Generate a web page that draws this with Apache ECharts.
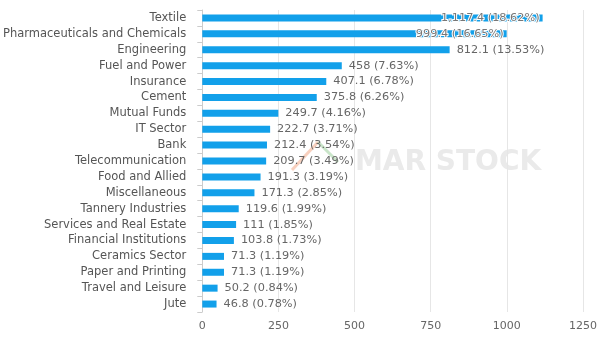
<!DOCTYPE html>
<html><head><meta charset="utf-8">
<script src="https://cdn.jsdelivr.net/npm/echarts@6/dist/echarts.min.js"></script>
<style>html,body{margin:0;padding:0;background:#fff}#c{width:600px;height:337px}</style>
</head><body><div id="c"></div>
<script>
const categories = ["Textile","Pharmaceuticals and Chemicals","Engineering","Fuel and Power","Insurance","Cement","Mutual Funds","IT Sector","Bank","Telecommunication","Food and Allied","Miscellaneous","Tannery Industries","Services and Real Estate","Financial Institutions","Ceramics Sector","Paper and Printing","Travel and Leisure","Jute"];
const values = [1117.4,999.4,812.1,458,407.1,375.8,249.7,222.7,212.4,209.7,191.3,171.3,119.6,111,103.8,71.3,71.3,50.2,46.8];
const percents = [18.62,16.65,13.53,7.63,6.78,6.26,4.16,3.71,3.54,3.49,3.19,2.85,1.99,1.85,1.73,1.19,1.19,0.84,0.78];
const xTicks = [0,250,500,750,1000,1250];

const fmt = v => v.toLocaleString('en-US', {maximumFractionDigits: 1});
const chart = echarts.init(document.getElementById('c'));
const data = values.map((v, i) => {
  const item = {value: v};
  if (i < 2) {
    item.label = {position: 'insideRight', offset: [4, 0], color: '#777', textBorderColor: '#fff', textBorderWidth: 2};
  }
  return item;
});
chart.setOption({
  animation: false,
  textStyle: {fontFamily: 'DejaVu Sans'},
  graphic: [
    {type: 'polyline', z: 0, shape: {points: [[292,170],[318,142]]}, style: {stroke: 'rgba(240,150,110,0.45)', lineWidth: 3}},
    {type: 'polyline', z: 0, shape: {points: [[318,142],[338,162]]}, style: {stroke: 'rgba(120,190,120,0.4)', lineWidth: 3}},
    {type: 'text', left: 355, top: 149, z: 0,
     style: {text: 'MAR STOCK', font: 'bold 28px DejaVu Sans', fill: '#eaeaea'}}
  ],
  grid: {left: 201, right: 11, top: 10, bottom: 25, containLabel: false},
  xAxis: {
    type: 'value', min: xTicks[0], max: xTicks[xTicks.length-1], interval: 250,
    axisLine: {show: false}, axisTick: {show: false},
    splitLine: {lineStyle: {color: '#e6e6e6'}},
    axisLabel: {color: '#666', fontSize: 11, margin: 9, formatter: v => String(v)}
  },
  yAxis: {
    type: 'category', data: categories, inverse: true,
    axisLine: {lineStyle: {color: '#ccc'}},
    axisTick: {show: true, lineStyle: {color: '#ccc'}},
    axisLabel: {color: '#555', fontSize: 11.5, margin: 16}
  },
  series: [{
    type: 'bar', data: data, barWidth: 7, z: 5,
    itemStyle: {color: '#12a0ea'},
    label: {
      show: true, position: 'right', color: '#666', fontSize: 11.3, distance: 7,
      formatter: p => fmt(p.value) + ' (' + percents[p.dataIndex].toFixed(2) + '%)'
    }
  }]
});
</script></body></html>
